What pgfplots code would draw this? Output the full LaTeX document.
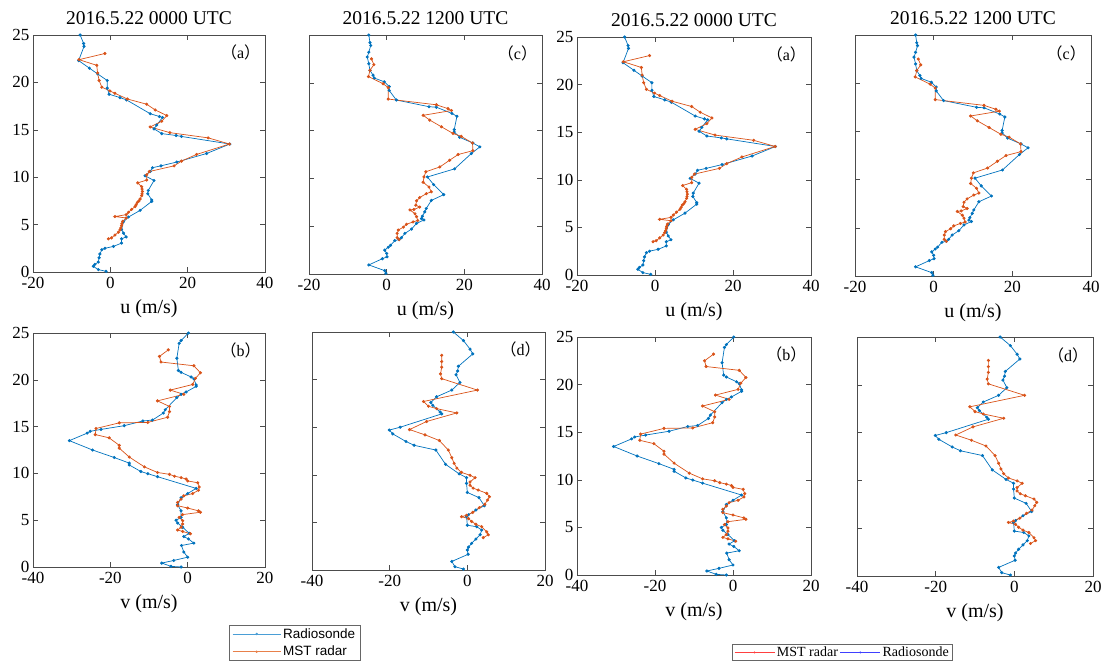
\documentclass[border=0pt]{standalone}
\usepackage{fontspec}
\setmainfont{Liberation Serif}
\newfontfamily\tnr{Liberation Serif}
\newfontfamily\arial{Liberation Sans}
\newfontfamily\cjk{Noto Sans CJK SC}
\usepackage{pgfplots}
\usepackage{pgfplotstable}
\pgfplotsset{compat=1.18}
\definecolor{mblue}{HTML}{0072BD}
\definecolor{morange}{HTML}{D95319}
\definecolor{lblue}{HTML}{4A9ED6}
\definecolor{lorange}{HTML}{E8804A}

% ---------- u, 2016.5.22 0000 UTC ----------
\pgfplotstableread{
u z
-7.8 25
-6.9 24.1
-6.8 23.8
-8.2 22.3
-5.4 21.5
-3.3 20.9
-0.8 20.2
-0.8 19.4
-0.3 18.75
2.5 18.4
4.2 18.15
10.3 16.7
12.7 16.4
13.5 16.3
12.0 15.5
11.3 15.1
13.3 14.6
17.0 14.4
18.4 14.3
30.9 13.5
24.9 12.5
17.2 11.6
13.1 11.2
10.9 11.0
10.3 10.6
9.0 10.15
11.3 9.65
9.8 8.6
9.7 8.25
10.7 7.6
10.7 7.45
7.7 6.5
4.7 5.8
3.4 5.3
2.9 4.5
3.4 4.1
4.1 3.7
2.9 3.5
2.9 3.05
0.8 2.7
-1.4 2.5
-2.2 2.35
-2.7 1.9
-2.9 1.5
-3.1 1.05
-4.0 0.8
-4.4 0.6
-3.1 0.25
-1.1 0.07
}\uAr
\pgfplotstableread{
u z
-1.4 23.05
-8.1 22.4
-3.5 21.8
-3.3 21.0
-2.9 20.2
-2.2 19.5
-0.1 19.1
1.2 18.85
4.4 18.25
9.4 17.7
11.6 17.1
14.6 16.5
13.3 15.9
10.3 15.3
15.4 14.7
25.3 14.15
30.8 13.5
22.3 12.4
18.4 11.7
16.5 11.2
10.1 10.6
9.4 10.25
9.4 9.7
7.1 9.4
8.1 9.0
8.2 8.75
8.3 8.5
8.2 8.25
8.1 8.05
7.7 7.7
7.4 7.5
7.0 7.35
6.7 7.1
6.4 6.9
5.5 6.6
4.7 6.3
4.1 6.05
1.2 5.85
4.1 5.7
3.2 5.35
3.0 5.1
2.9 4.9
2.7 4.65
2.5 4.45
2.1 4.2
1.2 3.9
0.3 3.6
-0.5 3.5
}\uAm
% ---------- u, 2016.5.22 1200 UTC ----------
\pgfplotstableread{
u z
-4.6 25
-4.3 24.2
-4.1 23.9
-4.6 23.2
-5.0 22.7
-4.6 22.0
-4.3 21.3
-3.5 20.8
-3.2 20.5
-0.6 20.1
0.65 19.6
0.65 19.2
2.5 18.2
10.9 17.5
12.8 17.45
16.8 16.8
18.1 16.5
17.4 15.1
17.4 14.85
18.8 14.3
22.2 13.7
24.0 13.3
21.8 12.6
17.5 11.0
10.5 10.15
12.1 9.35
14.7 8.3
11.5 7.7
10.2 6.85
9.8 6.5
9.2 6.05
8.96 5.8
9.6 5.65
7.7 5.3
6.4 4.7
4.7 4.25
3.8 3.8
3.2 3.6
2.1 3.5
1.0 3.0
0.4 2.8
-0.5 2.5
0 2.15
0.1 1.8
-1.1 1.6
-4.6 0.95
-0.5 0.35
-0.2 0.07
}\uCr
\pgfplotstableread{
u z
-3.9 22.5
-3.3 21.9
-4.3 21.3
-4.7 20.65
-0.9 19.9
0.4 19.5
0.4 18.3
12.8 17.7
15.8 17.3
16.7 17.1
9.4 16.6
11.1 16.1
14.1 15.4
17.1 14.7
19.2 14.4
22.1 13.7
22.2 12.9
18.4 12.5
16.2 11.9
13.7 11.2
10.1 10.7
9.6 10.15
9.4 9.6
10.9 9.1
11.5 8.6
10.2 8.4
8.5 8.0
7.7 7.65
7.5 7.2
8.5 7.0
7.0 6.75
6.0 6.7
7.3 6.3
7.7 6.0
8.0 5.6
6.8 5.45
5.1 5.2
4.3 4.9
3.0 4.6
2.7 4.25
2.7 3.8
3.2 3.6
}\uCm
% ---------- v, 2016.5.22 0000 UTC ----------
\pgfplotstableread{
u z
0.2 25
-1.7 24.2
-2.2 23.9
-2.8 22.3
-2.4 21.0
-1.7 20.8
0.9 20.3
1.6 20.1
2.2 19.45
2.2 19.3
-0.4 18.7
-1.7 18.45
-2.8 18.1
-5.8 16.8
-6.3 16.45
-9.1 15.7
-11.6 15.6
-16.4 15.1
-22.4 14.7
-25.2 14.5
-26.0 14.3
-30.6 13.5
-24.6 12.5
-19.0 11.7
-15.1 11.1
-15.1 10.9
-12.1 10.2
-10.3 9.97
-7.8 9.65
2.2 8.4
0 7.85
-1.7 7.4
-2.6 6.65
-1.7 6.0
-1.7 5.3
-3.0 5.0
-2.6 4.7
-1.3 4.25
0.4 3.6
-1.0 3.25
0.2 3.0
1.6 2.55
-1.6 2.3
-1.0 1.6
0 1.05
-3.6 0.7
-6.7 0.42
-4.3 0.07
-1.7 0
}\vBr
\pgfplotstableread{
u z
-5.0 23.2
-7.3 22.5
-6.9 21.9
1.6 21.5
3.3 20.75
2.0 20.15
1.3 19.5
-4.5 18.9
-1.0 18.45
-7.8 17.75
-4.7 17.15
-4.7 16.6
-5.2 16.0
-10.3 15.45
-17.7 15.4
-23.7 14.8
-23.9 14.15
-20.3 13.8
-17.7 13.0
-17.7 12.7
-15.1 11.75
-11.2 10.7
-7.8 10.1
-4.7 9.9
-3.4 9.7
-1.7 9.55
-0.4 9.4
0 9.2
2.6 9.0
3.0 8.55
2.8 8.2
1.3 7.85
-1.0 7.6
-1.7 7.25
-2.6 6.9
-2.6 6.55
0 6.3
2.8 6.0
3.3 5.85
-1.3 5.6
-2.2 5.3
-1.3 4.95
-1.3 4.6
-1.7 4.25
-2.6 3.95
-1.3 3.8
0.7 3.55
}\vBm
% ---------- v, 2016.5.22 1200 UTC ----------
\pgfplotstableread{
u z
-3.6 25
-1.0 24.1
0.7 23.2
1.4 22.7
-2.3 21.4
-2.5 20.9
-2.9 20.5
-1.9 19.7
-4.0 18.9
-7.9 18.2
-9.4 17.6
-8.9 17.3
-7.0 16.6
-6.6 16.4
-17.3 15.0
-20.1 14.7
-19.2 14.3
-15.8 13.5
-13.7 13.1
-8.1 12.6
-5.6 11.1
-2.1 10.1
-0.2 9.7
-0.2 9.1
0 8.15
3.0 7.6
4.4 6.75
2.2 6.3
0.3 5.8
-0.2 5.6
0 4.7
2.4 4.55
3.7 4.2
3.3 3.7
2.2 3.25
1.1 2.8
0.3 2.4
0 2.1
0.2 1.65
-4.0 0.9
-3.2 0.35
-1.0 0.1
}\vDr
\pgfplotstableread{
u z
-6.6 22.55
-6.6 21.9
-6.6 21.3
-6.9 20.6
-6.6 20.1
2.6 18.9
-11.3 17.7
-10.0 17.2
-7.9 16.95
-2.7 16.5
-10.5 15.6
-14.9 14.75
-10.9 14.2
-7.2 13.6
-4.9 12.6
-4.0 11.8
-3.4 11.2
-2.7 10.7
-1.5 10.25
0.7 9.95
2.0 9.7
0.7 9.25
0.7 8.9
1.5 8.6
2.8 8.4
5.0 8.05
5.7 7.7
5.2 7.35
4.5 6.9
3.1 6.55
1.4 6.05
-0.2 5.75
-1.5 5.6
0.3 5.4
1.1 5.1
2.2 4.8
3.7 4.55
5.0 4.0
5.4 3.7
4.1 3.4
}\vDm

\pgfplotsset{
  prof/.style={
    scale only axis, anchor=north west,
    axis line style={draw=black!70, line width=0.6pt},
    every tick/.style={draw=black!70, line width=0.6pt},
    tick align=inside, tick pos=both, major tick length=5pt,
    ymin=0, ymax=25, ytick={0,5,10,15,20,25},
    ticklabel style={font=\tnr\fontsize{17}{17}\selectfont},
    xticklabel style={yshift=-2pt},
    /pgf/number format/assume math mode=true,
    label style={font=\tnr\fontsize{20}{20}\selectfont},
    xlabel style={at={(axis description cs:0.5,0)}, anchor=center, yshift=-37pt},
    title style={font=\tnr\fontsize{19.5}{20}\selectfont, at={(axis description cs:0.5,1)}, anchor=center, yshift=11pt},
  },
  toprow/.style={xmin=-20, xmax=40, xtick={-20,0,20,40}, xlabel={u (m/s)}},
  botrow/.style={xmin=-40, xmax=20, xtick={-40,-20,0,20}, xlabel={v (m/s)}},
  nolab/.style={yticklabel=\empty},
  rs/.style={color=mblue, line width=0.7pt, mark=*, mark size=1.2pt, forget plot},
  mst/.style={color=morange, line width=0.7pt, mark=*, mark size=1.2pt, forget plot},
}
\newcommand{\paneltag}[1]{\node[font=\tnr\fontsize{16}{16}\selectfont] at (rel axis cs:0.895,0.925) {{\cjk （}#1{\cjk ）}};}

\begin{document}
\begin{tikzpicture}
\useasboundingbox (0,0) rectangle (1105pt,-662pt);

% ---- top row ----
\begin{axis}[prof, toprow, width=232pt, height=237pt, at={(33pt,-35pt)}, title={2016.5.22 0000 UTC}]
\addplot[rs] table[x=u,y=z] {\uAr};
\addplot[mst] table[x=u,y=z] {\uAm};
\paneltag{a}
\end{axis}

\begin{axis}[prof, toprow, nolab, width=233pt, height=239pt, at={(309pt,-35pt)}, title={2016.5.22 1200 UTC}]
\addplot[rs] table[x=u,y=z] {\uCr};
\addplot[mst] table[x=u,y=z] {\uCm};
\paneltag{c}
\end{axis}

\begin{axis}[prof, toprow, width=234pt, height=238pt, at={(577pt,-37pt)}, title={2016.5.22 0000 UTC}]
\addplot[rs] table[x=u,y=z] {\uAr};
\addplot[mst] table[x=u,y=z] {\uAm};
\paneltag{a}
\end{axis}

\begin{axis}[prof, toprow, nolab, width=236pt, height=241pt, at={(855pt,-35pt)}, title={2016.5.22 1200 UTC}]
\addplot[rs] table[x=u,y=z] {\uCr};
\addplot[mst] table[x=u,y=z] {\uCm};
\paneltag{c}
\end{axis}

% ---- bottom row ----
\begin{axis}[prof, botrow, width=232pt, height=234pt, at={(33pt,-333pt)},
  legend style={at={(axis description cs:0.845,-0.248)}, anchor=north west,
    font=\arial\fontsize{13.5}{14}\selectfont, draw=black!60, line width=0.6pt,
    inner xsep=3pt, inner ysep=1pt, row sep=2.5pt},
  legend cell align=left,
  legend image code/.code={\draw[mark repeat=2, mark phase=2, #1] plot coordinates {(0pt,0pt) (24pt,0pt) (48pt,0pt)};}]
\addplot[rs] table[x=u,y=z] {\vBr};
\addplot[mst] table[x=u,y=z] {\vBm};
\paneltag{b}
\addlegendimage{color=lblue, line width=0.7pt, mark=*, mark size=0.8pt}
\addlegendentry{Radiosonde}
\addlegendimage{color=lorange, line width=0.7pt, mark=*, mark size=0.8pt}
\addlegendentry{MST radar}
\end{axis}

\begin{axis}[prof, botrow, nolab, width=233pt, height=238pt, at={(312pt,-332pt)}]
\addplot[rs] table[x=u,y=z] {\vDr};
\addplot[mst] table[x=u,y=z] {\vDm};
\paneltag{d}
\end{axis}

\begin{axis}[prof, botrow, width=234pt, height=238pt, at={(577pt,-337pt)},
  legend style={at={(axis description cs:0.662,-0.29)}, anchor=north west,
    font=\tnr\fontsize{14}{15}\selectfont, draw=black!60, line width=0.6pt,
    inner xsep=2pt, inner ysep=0.5pt},
  legend columns=2,
  legend image code/.code={\draw[mark repeat=2, mark phase=2, #1] plot coordinates {(0pt,0pt) (20pt,0pt) (40pt,0pt)};}]
\addplot[rs] table[x=u,y=z] {\vBr};
\addplot[mst] table[x=u,y=z] {\vBm};
\paneltag{b}
\addlegendimage{color=red!75, line width=0.7pt, mark=*, mark size=0.6pt}
\addlegendentry{MST radar}
\addlegendimage{color=blue!75, line width=0.7pt, mark=*, mark size=0.6pt}
\addlegendentry{Radiosonde}
\end{axis}

\begin{axis}[prof, botrow, nolab, width=236pt, height=239pt, at={(857pt,-337pt)}]
\addplot[rs] table[x=u,y=z] {\vDr};
\addplot[mst] table[x=u,y=z] {\vDm};
\paneltag{d}
\end{axis}
\end{tikzpicture}
\end{document}
